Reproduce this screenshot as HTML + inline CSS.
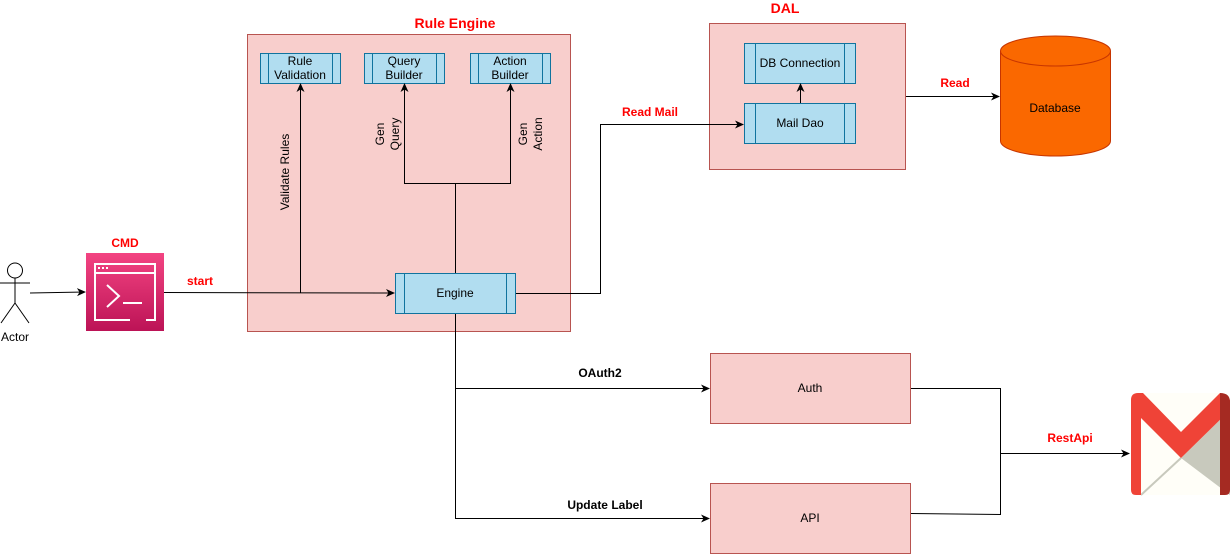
<!DOCTYPE html>
<html><head><meta charset="utf-8"><style>
html,body{margin:0;padding:0;background:#fff;}
svg{display:block;font-family:"Liberation Sans",Arial,sans-serif;}
</style></head><body>
<svg width="1231" height="555" viewBox="0 0 1231 555" xmlns="http://www.w3.org/2000/svg">
<defs>
<marker id="a" markerWidth="10" markerHeight="10" refX="8" refY="5" orient="auto" markerUnits="userSpaceOnUse">
<path d="M0,1 L9,5 L0,9 L2.5,5 Z" fill="#000"/></marker>
</defs>
<!-- Rule Engine -->
<rect x="247.5" y="34.5" width="323" height="297" fill="#f8cecc" stroke="#b85450"/>
<text x="455" y="28" font-size="14" font-weight="bold" fill="#ff0000" text-anchor="middle">Rule Engine</text>
<g fill="#b1ddf0" stroke="#10739e">
<rect x="260.5" y="53.5" width="80" height="30"/><line x1="268.5" y1="53.5" x2="268.5" y2="83.5"/><line x1="332.5" y1="53.5" x2="332.5" y2="83.5"/>
<rect x="364.5" y="53.5" width="80" height="30"/><line x1="372.5" y1="53.5" x2="372.5" y2="83.5"/><line x1="436.5" y1="53.5" x2="436.5" y2="83.5"/>
<rect x="470.5" y="53.5" width="80" height="30"/><line x1="478.5" y1="53.5" x2="478.5" y2="83.5"/><line x1="542.5" y1="53.5" x2="542.5" y2="83.5"/>
<rect x="395.5" y="273.5" width="120" height="40"/><line x1="404.5" y1="273.5" x2="404.5" y2="313.5"/><line x1="506.5" y1="273.5" x2="506.5" y2="313.5"/>
</g>
<g font-size="12" fill="#000" text-anchor="middle">
<text x="300" y="65">Rule</text><text x="300" y="79">Validation</text>
<text x="404" y="65">Query</text><text x="404" y="79">Builder</text>
<text x="510" y="65">Action</text><text x="510" y="79">Builder</text>
<text x="455" y="297">Engine</text>
</g>
<!-- DAL -->
<rect x="709.5" y="23.5" width="196" height="146" fill="#f8cecc" stroke="#b85450"/>
<text x="785" y="13" font-size="14" font-weight="bold" fill="#ff0000" text-anchor="middle">DAL</text>
<g fill="#b1ddf0" stroke="#10739e">
<rect x="744.5" y="43.5" width="111" height="40"/><line x1="755.5" y1="43.5" x2="755.5" y2="83.5"/><line x1="844.5" y1="43.5" x2="844.5" y2="83.5"/>
<rect x="744.5" y="103.5" width="111" height="40"/><line x1="755.5" y1="103.5" x2="755.5" y2="143.5"/><line x1="844.5" y1="103.5" x2="844.5" y2="143.5"/>
</g>
<text x="800" y="67" font-size="12" text-anchor="middle">DB Connection</text>
<text x="800" y="127" font-size="12" text-anchor="middle">Mail Dao</text>
<!-- Database -->
<path d="M1000.5,51 A55,15 0 0 1 1110.5,51 L1110.5,141 A55,15 0 0 1 1000.5,141 Z" fill="#fa6800" stroke="#c73500"/>
<path d="M1000.5,51 A55,15 0 0 0 1110.5,51" fill="none" stroke="#c73500"/>
<text x="1055" y="112" font-size="12" text-anchor="middle">Database</text>
<!-- Auth/API -->
<rect x="710.5" y="353.5" width="200" height="70" fill="#f8cecc" stroke="#b85450"/>
<rect x="710.5" y="483.5" width="200" height="70" fill="#f8cecc" stroke="#b85450"/>
<text x="810" y="392" font-size="12" text-anchor="middle">Auth</text>
<text x="810" y="522" font-size="12" text-anchor="middle">API</text>
<!-- Actor -->
<g stroke="#000" fill="none" stroke-width="1">
<circle cx="15" cy="270.5" r="7.5" fill="#fff"/>
<line x1="15" y1="278" x2="15" y2="303"/>
<line x1="0" y1="283" x2="30" y2="283"/>
<line x1="15" y1="303" x2="1" y2="323"/>
<line x1="15" y1="303" x2="29" y2="323"/>
</g>
<text x="15" y="341" font-size="12" text-anchor="middle">Actor</text>
<!-- CMD -->
<defs><linearGradient id="g" x1="0" y1="0" x2="0" y2="1"><stop offset="0" stop-color="#f34482"/><stop offset="1" stop-color="#bc1356"/></linearGradient></defs>
<rect x="86" y="253" width="78" height="78" fill="url(#g)"/>
<g stroke="#fff" stroke-width="2" fill="none">
<path d="M130,320 L95,320 L95,264 L155,264 L155,320 L146,320"/>
<line x1="95" y1="273" x2="155" y2="273"/>
<polyline points="107,285 119,296 107,307"/>
<line x1="123" y1="303" x2="142" y2="303"/>
</g>
<g fill="#fff"><rect x="98" y="267" width="2" height="2"/><rect x="102" y="267" width="2" height="2"/><rect x="106" y="267" width="2" height="2"/></g>
<text x="125" y="247" font-size="12" font-weight="bold" fill="#ff0000" text-anchor="middle">CMD</text>
<!-- Gmail -->
<rect x="1131" y="393" width="99" height="102" rx="6" fill="#fffef8"/>
<path d="M1181,458 L1230,410 L1230,495 Z" fill="#c8c9bd"/>
<path d="M1141,495 L1181,458" stroke="#c8c9bd" stroke-width="2"/>
<path d="M1131,400 Q1131,393 1138,393 L1143,393 L1181,432 L1220,393 L1230,400 L1230,410 L1181,458 L1141,418 L1141,495 L1136,495 Q1131,495 1131,490 Z" fill="#ef4337"/>
<path d="M1220,393 Q1230,393 1230,402 L1230,490 Q1230,495 1225,495 L1220,495 Z" fill="#a52a22"/>
<!-- connectors -->
<g stroke="#000" fill="none" stroke-width="1">
<path d="M30,293 L85,292" marker-end="url(#a)"/>
<path d="M164,292.5 L394,293" marker-end="url(#a)"/>
<path d="M300.5,293 L300.5,84" marker-end="url(#a)"/>
<path d="M455.5,273 L455.5,183.5 L404.5,183.5 L404.5,84" marker-end="url(#a)"/>
<path d="M455.5,183.5 L510.5,183.5 L510.5,84" marker-end="url(#a)"/>
<path d="M516,293.5 L600.5,293.5 L600.5,124.5 L743,124.5" marker-end="url(#a)"/>
<path d="M800.5,103 L800.5,84" marker-end="url(#a)"/>
<path d="M906,96.5 L999,96.5" marker-end="url(#a)"/>
<path d="M455.5,314 L455.5,388.5 L709,388.5" marker-end="url(#a)"/>
<path d="M455.5,388.5 L455.5,518.5 L709,518.5" marker-end="url(#a)"/>
<path d="M911,388.5 L1000.5,388.5 L1000.5,514.5 L911,513.5"/>
<path d="M1000.5,453.5 L1129,453.5" marker-end="url(#a)"/>
</g>
<!-- labels -->
<g font-size="12" font-weight="bold">
<text x="200" y="285" fill="#ff0000" text-anchor="middle">start</text>
<text x="650" y="116" fill="#ff0000" text-anchor="middle">Read Mail</text>
<text x="955" y="87" fill="#ff0000" text-anchor="middle">Read</text>
<text x="1070" y="442" fill="#ff0000" text-anchor="middle">RestApi</text>
<text x="600" y="377" fill="#000" text-anchor="middle">OAuth2</text>
<text x="605" y="509" fill="#000" text-anchor="middle">Update Label</text>
</g>
<g font-size="12" text-anchor="middle">
<text transform="translate(289,172) rotate(-90)">Validate Rules</text>
<text transform="translate(384,134) rotate(-90)">Gen</text>
<text transform="translate(399,134) rotate(-90)">Query</text>
<text transform="translate(527,134) rotate(-90)">Gen</text>
<text transform="translate(542,134) rotate(-90)">Action</text>
</g>
</svg>
</body></html>
